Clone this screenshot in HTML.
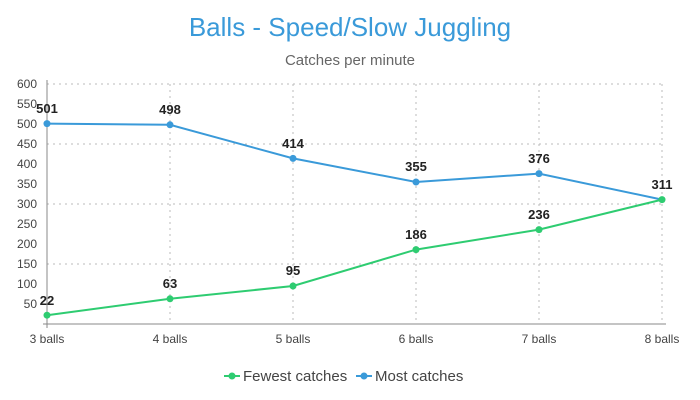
<!DOCTYPE html>
<html><head><style>body{margin:0;background:#fff}svg{display:block}text{font-family:"Liberation Sans",sans-serif}</style></head>
<body>
<svg width="700" height="400" xmlns="http://www.w3.org/2000/svg">
<text x="350" y="36" text-anchor="middle" font-size="26" fill="#3a9ad9">Balls - Speed/Slow Juggling</text>
<text x="350" y="65" text-anchor="middle" font-size="15" fill="#666">Catches per minute</text>
<g stroke="#bbb" stroke-dasharray="2,4" stroke-width="1">
<line x1="47" x2="662" y1="84" y2="84"/><line x1="47" x2="662" y1="144" y2="144"/><line x1="47" x2="662" y1="204" y2="204"/><line x1="47" x2="662" y1="264" y2="264"/>
<line x1="170" x2="170" y1="84" y2="324"/><line x1="293" x2="293" y1="84" y2="324"/><line x1="416" x2="416" y1="84" y2="324"/><line x1="539" x2="539" y1="84" y2="324"/><line x1="662" x2="662" y1="84" y2="324"/>
</g>
<line x1="47" x2="47" y1="80" y2="328" stroke="#888"/>
<line x1="43" x2="666" y1="324" y2="324" stroke="#888"/>
<g font-size="12" fill="#444" text-anchor="end">
<text x="37" y="88">600</text><text x="37" y="108">550</text><text x="37" y="128">500</text><text x="37" y="148">450</text><text x="37" y="168">400</text><text x="37" y="188">350</text><text x="37" y="208">300</text><text x="37" y="228">250</text><text x="37" y="248">200</text><text x="37" y="268">150</text><text x="37" y="288">100</text><text x="37" y="308">50</text>
</g>
<g font-size="12" fill="#444" text-anchor="middle">
<text x="47" y="343">3 balls</text><text x="170" y="343">4 balls</text><text x="293" y="343">5 balls</text><text x="416" y="343">6 balls</text><text x="539" y="343">7 balls</text><text x="662" y="343">8 balls</text>
</g>
<polyline fill="none" stroke="#3a9ad9" stroke-width="2" points="47,123.6 170,124.8 293,158.4 416,182 539,173.6 662,199.6"/>
<polyline fill="none" stroke="#2ecc71" stroke-width="2" points="47,315.2 170,298.8 293,286 416,249.6 539,229.6 662,199.6"/>
<g fill="#3a9ad9"><circle cx="47" cy="123.6" r="3.5"/><circle cx="170" cy="124.8" r="3.5"/><circle cx="293" cy="158.4" r="3.5"/><circle cx="416" cy="182" r="3.5"/><circle cx="539" cy="173.6" r="3.5"/></g>
<g fill="#2ecc71"><circle cx="47" cy="315.2" r="3.5"/><circle cx="170" cy="298.8" r="3.5"/><circle cx="293" cy="286" r="3.5"/><circle cx="416" cy="249.6" r="3.5"/><circle cx="539" cy="229.6" r="3.5"/><circle cx="662" cy="199.6" r="3.5"/></g>
<g font-size="13" font-weight="bold" fill="#222" text-anchor="middle">
<text x="47" y="113">501</text><text x="170" y="114">498</text><text x="293" y="148">414</text><text x="416" y="171">355</text><text x="539" y="163">376</text><text x="662" y="189">311</text>
<text x="47" y="305">22</text><text x="170" y="288">63</text><text x="293" y="275">95</text><text x="416" y="239">186</text><text x="539" y="219">236</text>
</g>
<line x1="224" x2="240" y1="376" y2="376" stroke="#2ecc71" stroke-width="2"/><circle cx="232" cy="376" r="3.5" fill="#2ecc71"/>
<text x="243" y="381" font-size="15" fill="#444">Fewest catches</text>
<line x1="356" x2="372" y1="376" y2="376" stroke="#3a9ad9" stroke-width="2"/><circle cx="364" cy="376" r="3.5" fill="#3a9ad9"/>
<text x="375" y="381" font-size="15" fill="#444">Most catches</text>
</svg>
</body></html>
